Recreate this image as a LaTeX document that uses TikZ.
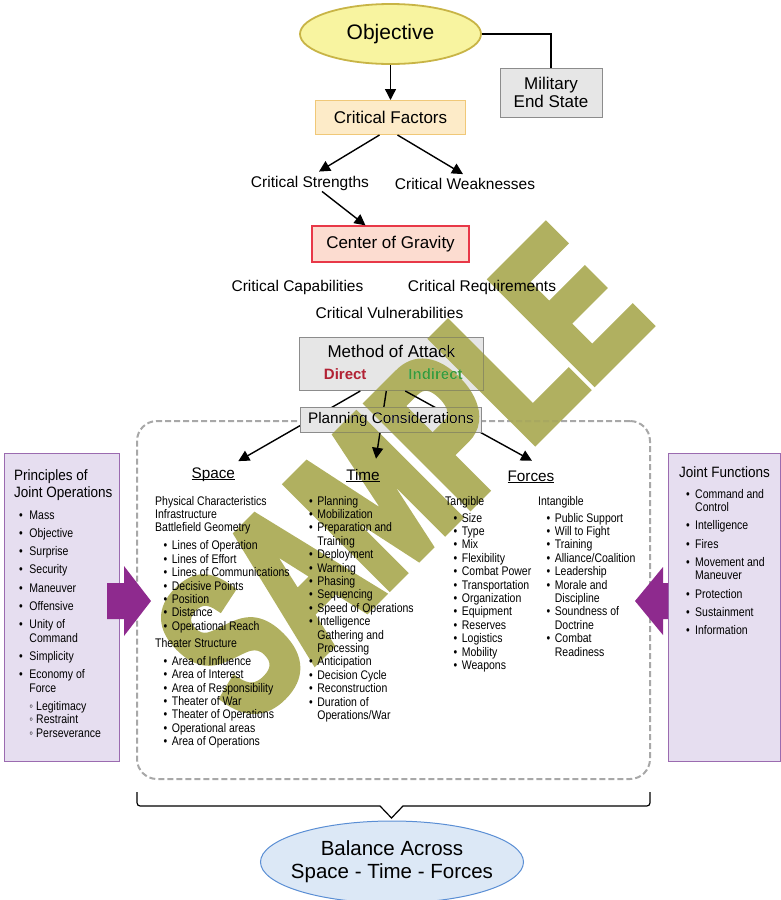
\documentclass[tikz,border=0pt]{standalone}
\usepackage{fontspec}
\setmainfont{Liberation Sans}
\newfontfamily\narrowfont{Liberation Sans}[FakeStretch=0.84]
\newfontfamily\titlefont{Liberation Sans}[FakeStretch=0.9]
\newfontfamily\stampfont{Liberation Sans}[FakeStretch=0.66, BoldFeatures={FakeBold=4.5}]
\usetikzlibrary{arrows.meta, positioning, shapes.geometric}

\definecolor{objfill}{RGB}{248,244,160}
\definecolor{objline}{RGB}{200,180,70}
\definecolor{cffill}{RGB}{253,235,200}
\definecolor{cfline}{RGB}{240,200,120}
\definecolor{cogfill}{RGB}{252,220,208}
\definecolor{cogline}{RGB}{232,56,72}
\definecolor{greyfill}{RGB}{230,230,230}
\definecolor{greyline}{RGB}{140,140,140}
\definecolor{panelfill}{RGB}{230,222,240}
\definecolor{panelline}{RGB}{155,107,176}
\definecolor{purplearrow}{RGB}{142,42,142}
\definecolor{balfill}{RGB}{220,232,246}
\definecolor{balline}{RGB}{90,142,212}
\definecolor{dashgrey}{RGB}{168,168,168}
\definecolor{directred}{RGB}{178,34,52}
\definecolor{indirectgreen}{RGB}{58,154,58}
\definecolor{stampolive}{RGB}{176,176,96}

\newcommand{\listfont}{\narrowfont\fontsize{12.5}{13.4}\selectfont}
\newcommand{\bl}{\textbullet}
\newcommand{\wb}{\char"25E6\relax}
\newcommand{\ib}{\hspace{8.5pt}\textbullet}
\newcommand{\hd}[1]{\multicolumn{2}{@{}l@{}}{#1}}
\newsavebox\ulbox
\newcommand{\ulh}[1]{\sbox\ulbox{#1}\rlap{\rule[-1.6pt]{\wd\ulbox}{0.9pt}}\usebox\ulbox}

\begin{document}
\begin{tikzpicture}[x=1pt, y=-1pt,
    conn/.style={line width=1.4pt, -{Triangle[length=11pt, width=11pt]}},
    link/.style={line width=1.4pt},
    box/.style={rectangle, draw, line width=1pt, inner sep=0pt, align=center},
    critlabel/.style={inner sep=1pt, font=\fontsize{15.5}{18}\selectfont},
    head/.style={inner sep=0pt, anchor=base, font=\fontsize{15.3}{18}\selectfont},
    list/.style={inner sep=0pt, anchor=base west, font=\listfont},
    paneltitle/.style={inner sep=0pt, anchor=base west, font=\titlefont\fontsize{15}{17}\selectfont},
    panel/.style={rectangle, draw=panelline, fill=panelfill, line width=1pt, inner sep=0pt}]
    \useasboundingbox (0,0) rectangle (781,900);

    % top of the chain
    \node[ellipse, draw=objline, fill=objfill, line width=1.8pt, minimum width=181, minimum height=60,
          font=\fontsize{21}{24}\selectfont] (obj) at (390.5,34) {Objective};
    \node[box, draw=greyline, fill=greyfill, minimum width=102, minimum height=49,
          font=\fontsize{17}{18}\selectfont] (mes) at (551,92.5) {Military\\End State};
    \node[box, draw=cfline, fill=cffill, minimum width=150, minimum height=34,
          font=\fontsize{17}{20}\selectfont] (cf) at (390.5,117.5) {Critical Factors};
    \node[critlabel] (cs) at (310,183) {Critical Strengths};
    \node[critlabel] (cw) at (465,184) {Critical Weaknesses};
    \node[box, draw=cogline, fill=cogfill, line width=1.2pt, minimum width=157, minimum height=36,
          font=\fontsize{17}{20}\selectfont] (cog) at (390.5,244) {Center of Gravity};
    \node[critlabel] (ccap) at (297.5,287) {Critical Capabilities};
    \node[critlabel] (creq) at (482,287) {Critical Requirements};
    \node[critlabel] (cvul) at (389.5,312.5) {Critical Vulnerabilities};
    \node[box, draw=greyline, fill=greyfill, minimum width=184, minimum height=53] (moa) at (391.3,364)
        {\fontsize{17}{21.7}\selectfont\begin{tabular}{@{}c@{}}Method of Attack\\
         \hspace{4pt}{\fontsize{15}{21.7}\selectfont\bfseries\color{directred}Direct}\hspace{42pt}%
         {\fontsize{15}{21.7}\selectfont\bfseries\color{indirectgreen}Indirect}\end{tabular}};

    \draw[link] (obj.east) -| (mes.north);
    \draw[conn] (obj.south) -- (cf.north);
    \draw[conn] ([xshift=-11pt]cf.south) -- ([xshift=9pt,yshift=3pt]cs.north);
    \draw[conn] ([xshift=7pt]cf.south) -- ([xshift=-2pt,yshift=3pt]cw.north);
    \draw[conn] ([xshift=12pt]cs.south) -- ([xshift=-25pt]cog.north);

    % planning frame
    \node[draw=dashgrey, line width=2pt, dash pattern=on 6pt off 3pt, rounded corners=20pt,
          minimum width=513, minimum height=358, inner sep=0pt] (frame) at (393.5,600) {};
    \node[head] (space) at (213.3,478) {\ulh{Space}};
    \node[head] (time) at (363,480) {\ulh{Time}};
    \node[head] (forces) at (531,481.5) {\ulh{Forces}};
    \draw[conn] ([xshift=-31pt]moa.south) -- ([xshift=25pt,yshift=6pt]space.north);
    \draw[conn] ([xshift=-5pt]moa.south) -- ([xshift=13pt,yshift=10pt]time.north);
    \draw[conn] ([xshift=14pt]moa.south) -- ([xshift=1pt,yshift=10pt]forces.north);
    \node[box, draw=greyline, fill=greyfill, minimum width=181, minimum height=25,
          font=\fontsize{15.3}{18}\selectfont] (plan) at (391,419.5) {Planning Considerations};

    \node[list] (spacelist) at (155,505) {\begin{tabular}[t]{@{}l@{\hspace{4.5pt}}l@{}}
        \hd{Physical Characteristics}\\ \hd{Infrastructure}\\ \hd{Battlefield Geometry}\\[4.6pt]
        \ib & Lines of Operation\\ \ib & Lines of Effort\\ \ib & Lines of Communications\\
        \ib & Decisive Points\\ \ib & Position\\ \ib & Distance\\ \ib & Operational Reach\\[3.6pt]
        \hd{Theater Structure}\\[4.6pt]
        \ib & Area of Influence\\ \ib & Area of Interest\\ \ib & Area of Responsibility\\
        \ib & Theater of War\\ \ib & Theater of Operations\\ \ib & Operational areas\\
        \ib & Area of Operations
    \end{tabular}};
    \node[list] (timelist) at (309,505) {\begin{tabular}[t]{@{}l@{\hspace{4.5pt}}l@{}}
        \bl & Planning\\ \bl & Mobilization\\ \bl & Preparation and\\ & Training\\
        \bl & Deployment\\ \bl & Warning\\ \bl & Phasing\\ \bl & Sequencing\\
        \bl & Speed of Operations\\ \bl & Intelligence\\ & Gathering and\\ & Processing\\
        \bl & Anticipation\\ \bl & Decision Cycle\\ \bl & Reconstruction\\
        \bl & Duration of\\ & Operations/War
    \end{tabular}};
    \node[list] (tangible) at (445,505) {\begin{tabular}[t]{@{}l@{\hspace{4.5pt}}l@{}}
        \hd{Tangible}\\[3.6pt]
        \ib & Size\\ \ib & Type\\ \ib & Mix\\ \ib & Flexibility\\ \ib & Combat Power\\
        \ib & Transportation\\ \ib & Organization\\ \ib & Equipment\\ \ib & Reserves\\
        \ib & Logistics\\ \ib & Mobility\\ \ib & Weapons
    \end{tabular}};
    \node[list] (intangible) at (538,505) {\begin{tabular}[t]{@{}l@{\hspace{4.5pt}}l@{}}
        \hd{Intangible}\\[3.6pt]
        \ib & Public Support\\ \ib & Will to Fight\\ \ib & Training\\ \ib & Alliance/Coalition\\
        \ib & Leadership\\ \ib & Morale and\\ & Discipline\\ \ib & Soundness of\\ & Doctrine\\
        \ib & Combat\\ & Readiness
    \end{tabular}};

    % side panels
    \node[panel, minimum width=115, minimum height=308] (pjo) at (61.5,607) {};
    \node[panel, minimum width=112.5, minimum height=308] (jf) at (724.3,607) {};
    \fill[purplearrow] (107,583) -- (124,583) -- (124,566) -- (151,601) -- (124,636)
        -- (124,619) -- (107,619) -- cycle;
    \fill[purplearrow] (668,583) -- (663,583) -- (663,567) -- (635,601) -- (663,635)
        -- (663,619) -- (668,619) -- cycle;
    \node[paneltitle] (pjotitle) at (14,480.5) {\begin{tabular}[t]{@{}l@{}}Principles of\\Joint Operations\end{tabular}};
    \node[list] (pjolist) at (19,519) {\begin{tabular}[t]{@{}l@{\hspace{6.6pt}}l@{}}
        \bl & Mass\\[4.9pt] \bl & Objective\\[4.9pt] \bl & Surprise\\[4.9pt] \bl & Security\\[4.9pt]
        \bl & Maneuver\\[4.9pt] \bl & Offensive\\[4.9pt] \bl & Unity of\\ & Command\\[4.9pt]
        \bl & Simplicity\\[4.9pt] \bl & Economy of\\ & Force\\[4.9pt]
        & \wb\hspace{3pt}Legitimacy\\ & \wb\hspace{3pt}Restraint\\ & \wb\hspace{3pt}Perseverance
    \end{tabular}};
    \node[paneltitle] (jftitle) at (679,477.5) {Joint Functions};
    \node[list] (jflist) at (686,498) {\begin{tabular}[t]{@{}l@{\hspace{5.3pt}}l@{}}
        \bl & Command and\\ & Control\\[4.9pt] \bl & Intelligence\\[4.9pt] \bl & Fires\\[4.9pt]
        \bl & Movement and\\ & Maneuver\\[4.9pt] \bl & Protection\\[4.9pt] \bl & Sustainment\\[4.9pt]
        \bl & Information
    \end{tabular}};

    % bottom
    \draw[line width=1.2pt] (137,792) -- (137,799) .. controls (137,806) .. (144,806) -- (380,806)
        -- (391.5,818) -- (403,806) -- (643,806) .. controls (650,806) .. (650,799) -- (650,792);
    \node[ellipse, draw=balline, fill=balfill, line width=1pt, minimum width=263, minimum height=82] (bal) at (392,862) {};
    \node[align=center, font=\fontsize{20.5}{23}\selectfont] (baltext) at (bal) {Balance Across\\Space - Time - Forces};

    % watermark
    \begin{scope}[blend mode=darken, color=stampolive]
        \node[rotate=45, inner sep=0pt, text=stampolive, font=\stampfont\bfseries\fontsize{208}{208}\selectfont] (stamp) at (400,474) {SAMPLE};
    \end{scope}
\end{tikzpicture}
\end{document}
